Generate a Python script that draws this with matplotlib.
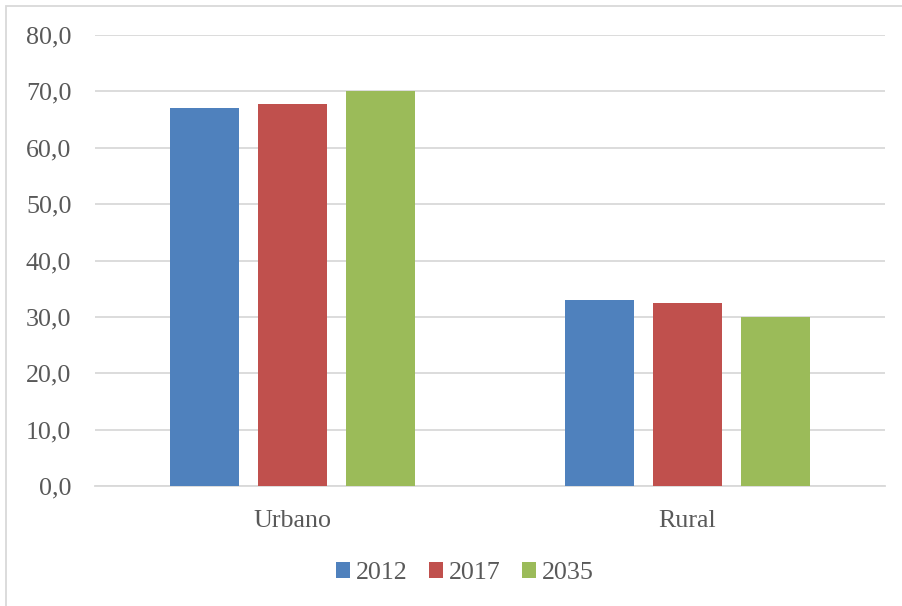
import matplotlib

matplotlib.use("Agg")
import matplotlib.pyplot as plt
import numpy as np
from matplotlib.patches import Rectangle

# Data
categories = ["Urbano", "Rural"]
years = ["2012", "2017", "2035"]
v2012 = [67.0, 33.0]
v2017 = [67.7, 32.4]
v2035 = [70.0, 30.0]
yticks = [0, 10, 20, 30, 40, 50, 60, 70, 80]

colors = ["#4F81BD", "#C0504D", "#9BBB59"]
TEXT = "#595959"
GRID = "#D9D9D9"

plt.rcParams["font.family"] = ["Liberation Serif", "DejaVu Serif"]

W, H = 902, 606
fig = plt.figure(figsize=(W / 100, H / 100), dpi=100)
ax = fig.add_axes([95 / W, 1 - 486 / H, (885 - 95) / W, (486 - 35) / H])

x = np.arange(len(categories))
width = 0.175
step = 0.222
for i, (vals, lbl) in enumerate(zip([v2012, v2017, v2035], years)):
    ax.bar(x + (i - 1) * step, vals, width=width, color=colors[i], label=lbl,
           zorder=3)

ax.set_xlim(-0.5, len(categories) - 0.5)
ax.set_ylim(0, 80)
ax.set_yticks(yticks)
ax.set_yticklabels([f"{t:.1f}".replace(".", ",") for t in yticks])
ax.set_xticks(x)
ax.set_xticklabels(categories)
ax.tick_params(axis="both", length=0, labelsize=18.7, labelcolor=TEXT)
ax.tick_params(axis="y", pad=17)
ax.tick_params(axis="x", pad=17)
ax.grid(axis="y", color=GRID, lw=1.3, zorder=0)
for s in ("top", "right", "left"):
    ax.spines[s].set_visible(False)
ax.spines["bottom"].set_color(GRID)
ax.spines["bottom"].set_linewidth(1.3)

fig.legend(loc="center", bbox_to_anchor=(465 / W, 1 - 573 / H), ncol=3,
           frameon=False, fontsize=18.7, labelcolor=TEXT,
           handlelength=0.54, handleheight=0.54, handletextpad=0.25,
           columnspacing=0.8)

# outer chart border (light gray)
fig.patches.append(Rectangle((6 / W, -0.05), 1.1, 1 - 6 / H + 0.05,
                             transform=fig.transFigure, fill=False,
                             edgecolor="#D9D9D9", lw=1.3))

fig.savefig("out.png", dpi=100)
